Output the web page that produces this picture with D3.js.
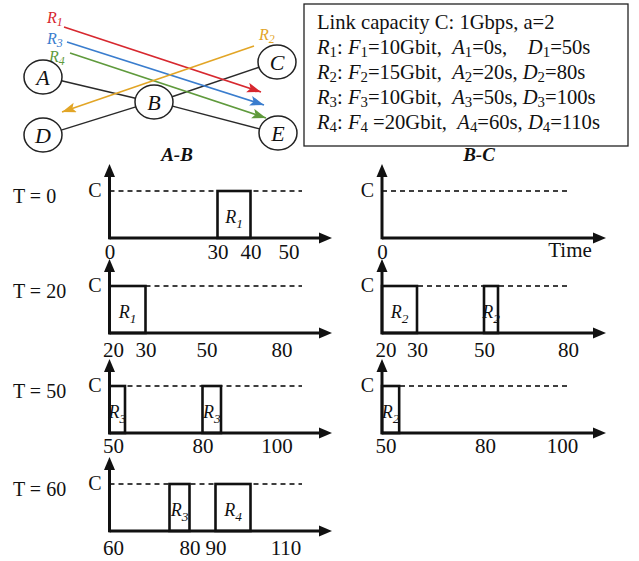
<!DOCTYPE html>
<html><head><meta charset="utf-8">
<script src="https://cdn.jsdelivr.net/npm/d3@7"></script>
<style>body{margin:0;background:#fff}svg{display:block}</style>
</head><body><svg id="c" width="639" height="561"></svg>
<script>
// ---------------- DATA ----------------
const linkCapacity = "1Gbps";
const alpha = 2;
const requestIds = [1, 2, 3, 4];
const requestSizes = [10, 15, 10, 20];      // F (Gbit)
const requestArrivals = [0, 20, 50, 60];    // A (s)
const requestDeadlines = [50, 80, 100, 110];// D (s)

const links = ["A-B", "B-C"];
const timeSteps = [0, 20, 50, 60];

// panels: (time step, link) with their tick labels
const panelTime = [0, 0, 20, 20, 50, 50, 60];
const panelLink = ["A-B", "B-C", "A-B", "B-C", "A-B", "B-C", "A-B"];
const panelTicks = [[0, 30, 40, 50], [0], [20, 30, 50, 80], [20, 30, 50, 80], [50, 80, 100], [50, 80, 100], [60, 80, 90, 110]];

// allocations: panel index, request, start, end (rate = C)
const allocPanel = [0, 2, 3, 3, 4, 4, 5, 6, 6];
const allocRequest = [1, 1, 2, 2, 3, 3, 2, 3, 4];
const allocStart = [30, 20, 20, 50, 50, 80, 50, 75, 90];
const allocEnd = [40, 30, 30, 55, 55, 85, 55, 80, 100];

// ---------------- LAYOUT ----------------
const svg = d3.select("#c");
const serif = "'Liberation Serif','Times New Roman',serif";
const colAxisX = {"A-B": 109.5, "B-C": 382};
const colArrowEnd = {"A-B": 332, "B-C": 606};
const colDashEnd = {"A-B": 302, "B-C": 570};
const rowBase = [238, 333, 433, 531];
const rowLabelOff = [21, 24, 20, 24];
const barHeight = 47;
// schematic (non-uniform) time axes: pixel offsets of each tick from the axis
const panelTickOffsets = [[0, 108, 141, 179], [0], [0, 36, 97, 172], [0, 35, 102, 186], [0, 93, 167], [0, 103, 180], [0, 80, 106, 176]];

function rich(g, x, y, parts, size, opts = {}) {
  const t = g.append("text").attr("x", x).attr("y", y)
    .attr("font-family", serif).attr("font-size", size)
    .attr("fill", opts.fill || "#111")
    .attr("text-anchor", opts.anchor || "start")
    .style("white-space", "pre");
  const shift = opts.shift !== undefined ? opts.shift : 0.28;
  const subSize = opts.subSize || 0.74;
  let shifted = 0;
  parts.forEach(p => {
    const ts = t.append("tspan").text(p.t);
    if (p.it) ts.attr("font-style", "italic");
    const target = p.sub ? size * shift : 0;
    if (target !== shifted) { ts.attr("dy", target - shifted); shifted = target; }
    if (p.sub) ts.attr("font-size", size * subSize);
  });
  return t;
}

// ---------------- NETWORK DIAGRAM ----------------
const net = svg.append("g");
const nodes = {A: [43, 77], B: [154, 102], C: [277, 62], D: [43, 135], E: [278, 133]};
const edges = [["A", "B"], ["D", "B"], ["B", "C"], ["B", "E"]];
const rx = 19, ry = 17;
function edgePt(a, b) {
  const [x1, y1] = nodes[a], [x2, y2] = nodes[b];
  const ang = Math.atan2(y2 - y1, x2 - x1);
  return [x1 + rx * Math.cos(ang), y1 + ry * Math.sin(ang)];
}
edges.forEach(([a, b]) => {
  const p = edgePt(a, b), q = edgePt(b, a);
  net.append("line").attr("x1", p[0]).attr("y1", p[1]).attr("x2", q[0]).attr("y2", q[1])
    .attr("stroke", "#2a2a2a").attr("stroke-width", 1.5);
});

const reqColors = {1: "#d7282f", 2: "#e2a526", 3: "#3a7dce", 4: "#5f9a3c"};
const defs = svg.append("defs");
Object.entries(reqColors).forEach(([k, c]) => {
  defs.append("marker").attr("id", "m" + k).attr("markerUnits", "userSpaceOnUse")
    .attr("markerWidth", 16).attr("markerHeight", 12).attr("refX", 14).attr("refY", 5)
    .attr("orient", "auto")
    .append("path").attr("d", "M0,0 L14,5 L0,10 L3,5 Z").attr("fill", c);
});
const flows = [
  {r: 1, from: [64, 27], to: [261, 92], lab: [47, 23]},
  {r: 3, from: [67, 42], to: [264, 105], lab: [47, 44]},
  {r: 4, from: [70, 53], to: [266, 118], lab: [49, 62]},
  {r: 2, from: [254, 46], to: [62, 112], lab: [259, 40]}
];
flows.forEach(f => {
  net.append("line").attr("x1", f.from[0]).attr("y1", f.from[1]).attr("x2", f.to[0]).attr("y2", f.to[1])
    .attr("stroke", reqColors[f.r]).attr("stroke-width", 1.6).attr("marker-end", `url(#m${f.r})`);
  rich(net, f.lab[0], f.lab[1], [{t: "R", it: 1}, {t: String(f.r), it: 1, sub: 1}], 16, {fill: reqColors[f.r], shift: 0.2});
});
Object.entries(nodes).forEach(([k, [x, y]]) => {
  net.append("ellipse").attr("cx", x).attr("cy", y).attr("rx", rx).attr("ry", ry)
    .attr("fill", "#fff").attr("stroke", "#222").attr("stroke-width", 1.5);
  net.append("text").attr("x", x).attr("y", y + 7.5).attr("text-anchor", "middle")
    .attr("font-family", serif).attr("font-style", "italic").attr("font-size", 22).attr("fill", "#111").text(k);
});

// ---------------- LEGEND BOX ----------------
const leg = svg.append("g");
leg.append("rect").attr("x", 304).attr("y", 4).attr("width", 324).attr("height", 142)
  .attr("fill", "#fff").attr("stroke", "#222").attr("stroke-width", 1.3);
rich(leg, 317, 28.5, [{t: `Link capacity C: ${linkCapacity}, a=${alpha}`}], 20.6);
requestIds.forEach((id, i) => {
  const s = String(id);
  const sep1 = id === 1 ? ",    " : ", ";
  const eq = id === 4 ? " =" : "=";
  rich(leg, 317, 53.5 + i * 25.3, [
    {t: "R", it: 1}, {t: s, sub: 1}, {t: ": "},
    {t: "F", it: 1}, {t: s, sub: 1}, {t: `${eq}${requestSizes[i]}Gbit,  `},
    {t: "A", it: 1}, {t: s, sub: 1}, {t: `=${requestArrivals[i]}s${sep1}`},
    {t: "D", it: 1}, {t: s, sub: 1}, {t: `=${requestDeadlines[i]}s`}
  ], 20.6, {shift: 0.15, subSize: 0.72});
});

// ---------------- COLUMN HEADINGS ----------------
links.forEach(l => {
  svg.append("text").attr("x", l === "A-B" ? 177 : 479).attr("y", 161).attr("text-anchor", "middle")
    .attr("font-family", serif).attr("font-weight", "bold").attr("font-style", "italic")
    .attr("font-size", 19).attr("fill", "#111").text(l);
});

// ---------------- ROW LABELS ----------------
timeSteps.forEach((t, i) => {
  svg.append("text").attr("x", 13).attr("y", rowBase[i] - barHeight + 12)
    .attr("font-family", serif).attr("font-size", 20).attr("fill", "#111").text(`T = ${t}`);
});

// ---------------- PANELS ----------------
panelTime.forEach((t, p) => {
  const row = timeSteps.indexOf(t);
  const link = panelLink[p];
  const x0 = colAxisX[link];
  const base = rowBase[row];
  const ticks = panelTicks[p];
  const offs = panelTickOffsets[p];
  const xs = ticks.length > 1
    ? d3.scaleLinear().domain(ticks).range(offs.map(o => x0 + o))
    : d3.scaleLinear().domain([ticks[0], ticks[0] + 1]).range([x0, x0 + 3.5]);
  const ys = d3.scaleLinear().domain([0, 1]).range([base, base - barHeight]);
  const g = svg.append("g");

  // capacity dashed line
  g.append("line").attr("x1", x0).attr("x2", colDashEnd[link]).attr("y1", ys(1)).attr("y2", ys(1))
    .attr("stroke", "#000").attr("stroke-width", 1.3).attr("stroke-dasharray", "5,4");
  g.append("text").attr("x", x0 - 8).attr("y", ys(1) + 6).attr("text-anchor", "end")
    .attr("font-family", serif).attr("font-size", 20).attr("fill", "#111").text("C");

  // allocations
  allocPanel.forEach((ap, k) => {
    if (ap !== p) return;
    const xa = xs(allocStart[k]), xb = xs(allocEnd[k]);
    g.append("rect").attr("x", xa).attr("y", ys(1)).attr("width", xb - xa).attr("height", ys(0) - ys(1))
      .attr("fill", "#fff").attr("stroke", "#111").attr("stroke-width", 2.6);
    rich(g, (xa + xb) / 2, (ys(0) + ys(1)) / 2 + 8, [{t: "R", it: 1}, {t: String(allocRequest[k]), it: 1, sub: 1}], 18, {anchor: "middle"});
  });

  // axes
  g.append("line").attr("x1", x0).attr("x2", x0).attr("y1", base + 1.3).attr("y2", base - 62)
    .attr("stroke", "#111").attr("stroke-width", 3);
  g.append("path").attr("d", `M${x0},${base - 74} L${x0 + 5.5},${base - 61} L${x0 - 5.5},${base - 61} Z`).attr("fill", "#111");
  const xe = colArrowEnd[link];
  g.append("line").attr("x1", x0).attr("x2", xe - 12).attr("y1", base).attr("y2", base)
    .attr("stroke", "#111").attr("stroke-width", 3);
  g.append("path").attr("d", `M${xe},${base} L${xe - 13},${base - 5.5} L${xe - 13},${base + 5.5} Z`).attr("fill", "#111");

  // tick labels
  const ax = g.append("g").attr("transform", `translate(0,${base + rowLabelOff[row] - 15})`)
    .call(d3.axisBottom(xs).tickValues(ticks).tickSize(0).tickPadding(0).tickFormat(d3.format("d")));
  ax.select(".domain").remove();
  ax.selectAll("text").attr("font-family", serif).attr("font-size", 21).attr("fill", "#111");
  ax.selectAll(".tick").filter((d, i) => i === 0 && String(d).length > 1)
    .select("text").attr("text-anchor", "start").attr("x", -7);

  if (ticks.length === 1) {
    g.append("text").attr("x", 570).attr("y", base + 19).attr("text-anchor", "middle")
      .attr("font-family", serif).attr("font-size", 21).attr("fill", "#111").text("Time");
  }
});
</script>
</body></html>
